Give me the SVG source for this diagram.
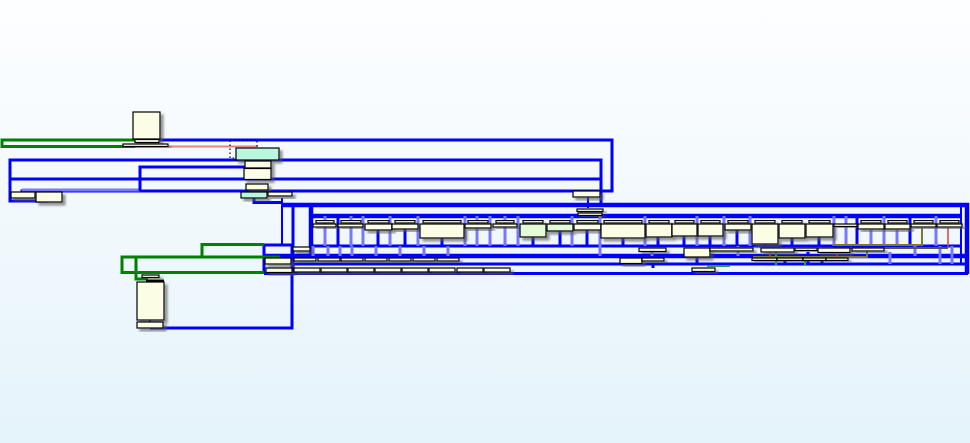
<svg xmlns="http://www.w3.org/2000/svg" width="970" height="443" viewBox="0 0 970 443">
<defs>
<linearGradient id="bg" x1="0" y1="0" x2="0" y2="1">
<stop offset="0" stop-color="#fdfeff"/>
<stop offset="1" stop-color="#e5f3fa"/>
</linearGradient>
<filter id="sh" x="-20%" y="-20%" width="160%" height="180%">
<feDropShadow dx="3" dy="3" stdDeviation="1.2" flood-color="#555" flood-opacity="0.6"/>
</filter>
<style>
.n{fill:#fbfde5;stroke:#000;stroke-width:1.2;filter:url(#sh)}
.m{fill:#baf7df}
.g{fill:#e3fbd9}
.b{fill:none;stroke:#0000ff;stroke-width:3}
.bt{fill:none;stroke:#0000ff;stroke-width:2}
.bw{fill:none;stroke:#0000ff;stroke-width:4.5}
.lb{fill:none;stroke:#7878ff;stroke-width:3}
.gr{fill:none;stroke:#008000;stroke-width:3}
.r{fill:none;stroke:#f08080;stroke-width:2}
.d{fill:none;stroke:#000;stroke-width:1.2;stroke-dasharray:1.5 2.5}
.ol{fill:none;stroke:#7a7a30;stroke-width:2}
.rd{fill:none;stroke:#e04040;stroke-width:1.5}
.gy{fill:none;stroke:#555;stroke-width:2}
.tg{fill:none;stroke:#30a050;stroke-width:2}
</style>
</defs>
<rect width="970" height="443" fill="url(#bg)"/>

<g id="connectors">
<path class="gr" d="M135,140 H2 V146.5 H135"/>
<path class="b" d="M160,140 H612 V191 H22 V193"/>
<path class="b" d="M48,201 H10 V160 H601 V205"/>
<path class="b" d="M10,179 H601"/>
<path class="lb" d="M22,190 H140"/>
<path class="b" d="M140,191 V167 H258"/>
<path class="r" d="M135,146.5 H258"/>
<rect class="d" x="230" y="140" width="27" height="18"/>
<path class="b" d="M254,198 V202.5 H281"/>
<path class="bt" d="M282,198 V245"/>
<path class="bt" d="M588,197 V208"/>
<path class="bw" d="M282,205 H967 V274"/>
<path class="b" d="M293,204 V274"/>
<path class="bw" d="M311,205 V256"/>
<path class="bw" d="M312,216 H962"/>
<path class="bt" d="M961,206 V264"/>
<path class="b" d="M312,246 H962"/>
<path class="bw" d="M264,256 H968"/>
<path class="b" d="M292,264 H968"/>
<path class="b" d="M264,273.5 H968"/>
<path class="b" d="M264,273.5 V245 H292 V328 H150"/>
<path class="bt" d="M150,320 V328"/>
<path class="gr" d="M264,244.5 H202 V257"/>
<path class="gr" d="M280,257 H122 V272.5 H264"/>
<path class="gr" d="M136,257 V279 H148"/>
<path class="lb" d="M325,216 V246"/>
<path class="b" d="M338,216 V246"/>
<path class="lb" d="M351,216 V246"/>
<path class="lb" d="M363,216 V246"/>
<path class="b" d="M378,229 V246"/>
<path class="lb" d="M390,216 V246"/>
<path class="b" d="M405,229 V246"/>
<path class="lb" d="M418,216 V246"/>
<path class="b" d="M442,238 V246"/>
<path class="lb" d="M465,216 V246"/>
<path class="lb" d="M477,216 V246"/>
<path class="lb" d="M490,216 V246"/>
<path class="lb" d="M505,216 V246"/>
<path class="b" d="M533,237 V246"/>
<path class="lb" d="M518,216 V246"/>
<path class="b" d="M560,231 V246"/>
<path class="lb" d="M572,216 V246"/>
<path class="b" d="M587,230 V246"/>
<path class="lb" d="M600,216 V256"/>
<path class="b" d="M623,238 V246"/>
<path class="b" d="M658,237 V246"/>
<path class="lb" d="M645,216 V246"/>
<path class="b" d="M684,236 V246"/>
<path class="lb" d="M697,216 V246"/>
<path class="b" d="M710,236 V246"/>
<path class="lb" d="M724,216 V246"/>
<path class="b" d="M737,230 V246"/>
<path class="lb" d="M750,216 V246"/>
<path class="b" d="M765,244 V246"/>
<path class="b" d="M792,238 V246"/>
<path class="b" d="M819,237 V246"/>
<path class="lb" d="M834,216 V246"/>
<path class="lb" d="M846,216 V246"/>
<path class="b" d="M857,216 V246"/>
<path class="lb" d="M871,230 V246"/>
<path class="lb" d="M884,216 V246"/>
<path class="lb" d="M897,230 V246"/>
<path class="b" d="M910,216 V246"/>
<path class="lb" d="M936,216 V246"/>
<path class="lb" d="M313,246 V256"/>
<path class="lb" d="M328,246 V256"/>
<path class="lb" d="M340,246 V256"/>
<path class="lb" d="M352,246 V256"/>
<path class="lb" d="M376,246 V256"/>
<path class="lb" d="M400,246 V256"/>
<path class="lb" d="M424,246 V256"/>
<path class="lb" d="M448,246 V256"/>
<path class="lb" d="M652,252 V256"/>
<path class="b" d="M697,257 V264"/>
<path class="b" d="M653,264 V268"/>
<path class="lb" d="M738,246 V256"/>
<path class="lb" d="M940,246 V264"/>
<path class="lb" d="M952,246 V264"/>
<path class="lb" d="M915,246 V256"/>
<path class="lb" d="M890,252 V264"/>
<path class="b" d="M808,252 V264"/>
<path class="b" d="M785,258 V264"/>
<path class="b" d="M822,258 V264"/>
<path class="ol" d="M922,228 V245 H833"/>
<path class="rd" d="M948,228 V247"/>
<path class="gy" d="M833,248 H948"/>
<path class="ol" d="M753,257 H867 V247"/>
<path class="tg" d="M776,250 V265"/>
<path class="tg" d="M805,258 V266"/>
<path class="tg" d="M707,266 H730"/>
<path class="rd" d="M770,250 V258"/>
<path class="rd" d="M837,250 V258"/>
</g>

<g id="n1"><rect class="n" x="133" y="112" width="27" height="27"/></g>
<g id="n2"><rect class="n" x="135" y="139.5" width="24" height="3"/></g>
<g id="n3"><rect class="n" x="123" y="144" width="45" height="2.5"/></g>
<g id="n4"><rect class="n m" x="236" y="148" width="43" height="12"/></g>
<g id="n5"><rect class="n" x="245" y="161" width="26" height="7"/></g>
<g id="n6"><rect class="n" x="244" y="168.5" width="27" height="11"/></g>
<g id="n7"><rect class="n" x="246" y="184" width="22" height="6"/></g>
<g id="n8"><rect class="n m" x="241" y="192" width="26" height="6"/></g>
<g id="n9"><rect class="n" x="268" y="192" width="24" height="4"/></g>
<g id="n10"><rect class="n" x="11" y="192" width="24" height="6"/></g>
<g id="n11"><rect class="n" x="36" y="192" width="26" height="10"/></g>
<g id="n12"><rect class="n" x="573" y="191" width="27" height="6"/></g>
<g id="n13"><rect class="n" x="577" y="209" width="26" height="2.5"/></g>
<g id="n14"><rect class="n" x="578" y="213" width="24" height="2.5"/></g>
<g id="n15"><rect class="n" x="142" y="275" width="17" height="2.5"/></g>
<g id="n16"><rect x="146" y="279.5" width="18" height="3" fill="#000"/><rect class="n" x="137" y="282" width="27" height="38"/></g>
<g id="n17"><rect class="n" x="137" y="322" width="26" height="6"/></g>
<g id="n18"><rect class="n" x="265" y="258" width="26" height="6"/></g>
<g id="n19"><rect class="n" x="266" y="268" width="26" height="4.5"/></g>
<g id="n20"><rect class="n" x="293" y="247" width="17" height="4"/></g>

<g id="t1"><rect class="n" x="316" y="220.5" width="18" height="2.5"/><rect class="n" x="313" y="224" width="23" height="3"/></g>
<g id="t2"><rect class="n" x="341" y="220.5" width="20" height="2.5"/><rect class="n" x="338" y="224" width="25" height="3"/></g>
<g id="t3"><rect class="n" x="368" y="220.5" width="21" height="2.5"/><rect class="n" x="365" y="224" width="27" height="6"/></g>
<g id="t4"><rect class="n" x="395" y="220.5" width="20" height="2.5"/><rect class="n" x="392" y="224" width="26" height="5"/></g>
<g id="t5"><rect class="n" x="423" y="220.5" width="38" height="2.5"/><rect class="n" x="420" y="224" width="44" height="14"/></g>
<g id="t6"><rect class="n" x="468" y="220.5" width="20" height="2.5"/><rect class="n" x="465" y="224" width="26" height="4"/></g>
<g id="t7"><rect class="n" x="496" y="220.5" width="18" height="2.5"/><rect class="n" x="493" y="224" width="24" height="3"/></g>
<g id="t8"><rect class="n" x="523" y="220.5" width="20" height="2.5"/><rect class="n g" x="520" y="224" width="26" height="13"/></g>
<g id="t9"><rect class="n" x="550" y="220.5" width="20" height="2.5"/><rect class="n g" x="547" y="224" width="26" height="7"/></g>
<g id="t10"><rect class="n" x="577" y="220.5" width="21" height="2.5"/><rect class="n" x="574" y="224" width="27" height="6"/></g>
<g id="t11"><rect class="n" x="604" y="220.5" width="38" height="2.5"/><rect class="n" x="601" y="224" width="44" height="14"/></g>
<g id="t12"><rect class="n" x="649" y="220.5" width="20" height="2.5"/><rect class="n" x="646" y="224" width="26" height="13"/></g>
<g id="t13"><rect class="n" x="675" y="220.5" width="19" height="2.5"/><rect class="n" x="672" y="224" width="25" height="12"/></g>
<g id="t14"><rect class="n" x="701" y="220.5" width="19" height="2.5"/><rect class="n" x="698" y="224" width="25" height="12"/></g>
<g id="t15"><rect class="n" x="728" y="220.5" width="20" height="2.5"/><rect class="n" x="725" y="224" width="26" height="6"/></g>
<g id="t16"><rect class="n" x="755" y="220.5" width="20" height="2.5"/><rect class="n" x="752" y="224" width="26" height="20"/></g>
<g id="t17"><rect class="n" x="782" y="220.5" width="20" height="2.5"/><rect class="n" x="779" y="224" width="26" height="14"/></g>
<g id="t18"><rect class="n" x="809" y="220.5" width="21" height="2.5"/><rect class="n" x="806" y="224" width="27" height="13"/></g>
<g id="t19"><rect class="n" x="834" y="224" width="23" height="2.5"/></g>
<g id="t20"><rect class="n" x="861" y="220.5" width="20" height="2.5"/><rect class="n" x="858" y="224" width="26" height="5"/></g>
<g id="t21"><rect class="n" x="888" y="220.5" width="19" height="2.5"/><rect class="n" x="885" y="224" width="25" height="5"/></g>
<g id="t22"><rect class="n" x="914" y="220.5" width="19" height="2.5"/><rect class="n" x="911" y="224" width="25" height="3"/></g>
<g id="t23"><rect class="n" x="940" y="220.5" width="19" height="2.5"/><rect class="n" x="937" y="224" width="25" height="3"/></g>

<g id="r2a"><rect class="n" x="294" y="258" width="22" height="3"/></g>
<g id="r2b"><rect class="n" x="318" y="258" width="22" height="3"/></g>
<g id="r2c"><rect class="n" x="341" y="258" width="22" height="3"/></g>
<g id="r2d"><rect class="n" x="365" y="258" width="22" height="3"/></g>
<g id="r2e"><rect class="n" x="389" y="258" width="22" height="3"/></g>
<g id="r2f"><rect class="n" x="413" y="258" width="22" height="3"/></g>
<g id="r2g"><rect class="n" x="437" y="258" width="22" height="3"/></g>
<g id="r3a"><rect class="n" x="294" y="268" width="26" height="4"/></g>
<g id="r3b"><rect class="n" x="321" y="268" width="26" height="4"/></g>
<g id="r3c"><rect class="n" x="348" y="268" width="26" height="4"/></g>
<g id="r3d"><rect class="n" x="375" y="268" width="26" height="4"/></g>
<g id="r3e"><rect class="n" x="402" y="268" width="26" height="4"/></g>
<g id="r3f"><rect class="n" x="429" y="268" width="26" height="4"/></g>
<g id="r3g"><rect class="n" x="457" y="268" width="26" height="4"/></g>
<g id="r3h"><rect class="n" x="484" y="268" width="26" height="4"/></g>
<g id="m1"><rect class="n" x="639" y="248" width="27" height="3.5"/></g>
<g id="m2"><rect class="n" x="684" y="248" width="26" height="9"/></g>
<g id="m3"><rect class="n" x="710" y="248" width="43" height="3"/></g>
<g id="m4"><rect class="n" x="620" y="258" width="22" height="5.5"/></g>
<g id="m5"><rect class="n" x="642" y="258" width="22" height="3"/></g>
<g id="m6"><rect class="n" x="692" y="268" width="23" height="3.5"/></g>
<g id="m7"><rect class="n" x="761" y="248" width="33" height="4"/></g>
<g id="m8"><rect class="n" x="795" y="248" width="22" height="2.5"/></g>
<g id="m9"><rect class="n" x="818" y="248" width="32" height="4.5"/></g>
<g id="m10"><rect class="n" x="852" y="248" width="32" height="3"/></g>
<g id="m11"><rect class="n" x="752" y="258" width="25" height="2.5"/></g>
<g id="m12"><rect class="n" x="777" y="258" width="26" height="2.5"/></g>
<g id="m13"><rect class="n" x="803" y="258" width="23" height="2.5"/></g>
<g id="m14"><rect class="n" x="826" y="258" width="22" height="2.5"/></g>
</svg>
